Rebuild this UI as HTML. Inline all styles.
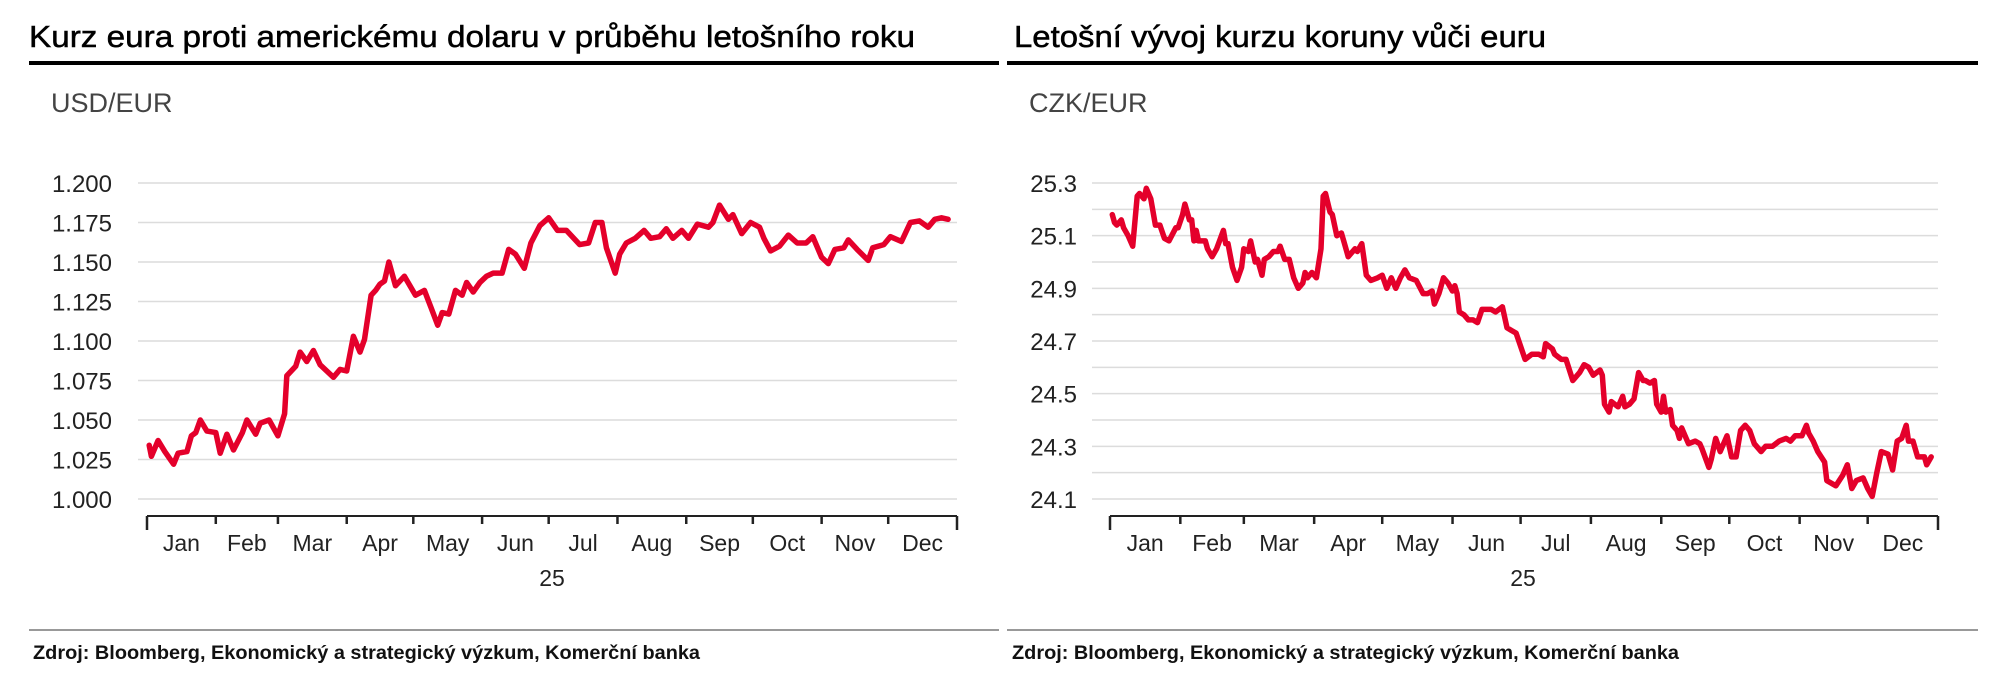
<!DOCTYPE html>
<html><head><meta charset="utf-8"><style>
html,body{margin:0;padding:0;background:#fff}
svg{display:block;font-family:"Liberation Sans",Arial,sans-serif}
</style></head><body>
<svg id="s" width="2004" height="699" viewBox="0 0 2004 699">
<g>
<text x="29" y="47" font-size="31" textLength="886" lengthAdjust="spacingAndGlyphs" fill="#000" stroke="#000" stroke-width="0.5">Kurz eura proti americkému dolaru v průběhu letošního roku</text>
<rect x="29" y="61" width="970" height="4" fill="#000"/>
<text x="51" y="112" font-size="27" fill="#444">USD/EUR</text>
<g id="lg"></g>
<rect x="29" y="629" width="970" height="2" fill="#999"/>
<text x="33" y="659" font-size="19" font-weight="bold" textLength="667" lengthAdjust="spacingAndGlyphs" fill="#111">Zdroj: Bloomberg, Ekonomický a strategický výzkum, Komerční banka</text>
</g>
<g>
<text x="1014" y="47" font-size="31" textLength="532" lengthAdjust="spacingAndGlyphs" fill="#000" stroke="#000" stroke-width="0.5">Letošní vývoj kurzu koruny vůči euru</text>
<rect x="1007" y="61" width="971" height="4" fill="#000"/>
<text x="1029" y="112" font-size="27" fill="#444">CZK/EUR</text>
<g id="rg"></g>
<rect x="1007" y="629" width="971" height="2" fill="#999"/>
<text x="1012" y="659" font-size="19" font-weight="bold" textLength="667" lengthAdjust="spacingAndGlyphs" fill="#111">Zdroj: Bloomberg, Ekonomický a strategický výzkum, Komerční banka</text>
</g>
</svg>
<script>
const monthLabels=["Jan","Feb","Mar","Apr","May","Jun","Jul","Aug","Sep","Oct","Nov","Dec"];
const monthStartDays=[0,31,59,90,120,151,181,212,243,273,304,334,365];
const usdTicks=[1.000,1.025,1.050,1.075,1.100,1.125,1.150,1.175,1.200];
const usdTickLabels=["1.000","1.025","1.050","1.075","1.100","1.125","1.150","1.175","1.200"];
const usdDays=[1,2,5,8,12,14,18,20,22,24,27,31,33,36,39,43,45,49,51,55,59,62,63,67,69,72,75,78,84,87,90,93,96,98,101,103,105,107,109,112,116,121,125,128,131,133,136,139,142,144,147,150,153,156,160,163,166,170,173,177,181,185,189,195,199,202,205,207,211,213,216,220,224,227,231,234,237,241,244,248,253,255,258,262,264,268,272,276,278,281,285,289,293,297,300,304,307,310,314,316,320,325,327,332,335,340,344,348,352,355,358,361];
const usdValues=[1.034,1.027,1.037,1.030,1.022,1.029,1.030,1.040,1.042,1.050,1.043,1.042,1.029,1.041,1.031,1.042,1.050,1.041,1.048,1.050,1.040,1.054,1.078,1.084,1.093,1.087,1.094,1.085,1.077,1.082,1.081,1.103,1.093,1.101,1.129,1.132,1.136,1.138,1.150,1.135,1.141,1.129,1.132,1.121,1.110,1.118,1.117,1.132,1.129,1.137,1.131,1.137,1.141,1.143,1.143,1.158,1.155,1.146,1.162,1.173,1.178,1.170,1.170,1.161,1.162,1.175,1.175,1.159,1.143,1.155,1.162,1.165,1.170,1.165,1.166,1.171,1.165,1.170,1.165,1.174,1.172,1.175,1.186,1.177,1.180,1.168,1.175,1.172,1.165,1.157,1.160,1.167,1.162,1.162,1.166,1.153,1.149,1.158,1.159,1.164,1.158,1.151,1.159,1.161,1.166,1.163,1.175,1.176,1.172,1.177,1.178,1.177];
const czkTicks=[24.1,24.2,24.3,24.4,24.5,24.6,24.7,24.8,24.9,25.0,25.1,25.2,25.3];
const czkTickLabels=["24.1","","24.3","","24.5","","24.7","","24.9","","25.1","","25.3"];
const czkDays=[1,2,3,5,6,8,10,12,13,15,16,18,20,22,24,26,29,30,32,33,35,36,37,38,39,42,43,45,47,50,51,52,54,56,58,59,61,62,64,65,67,68,70,72,74,75,77,79,81,83,85,86,87,89,91,93,94,95,97,98,100,102,103,105,108,109,111,113,115,118,120,122,124,126,128,130,132,135,138,140,142,143,145,147,149,151,152,153,154,156,158,160,162,164,166,168,170,173,175,177,179,181,183,186,189,191,192,195,196,199,201,204,207,209,211,213,216,217,218,220,221,224,226,227,229,231,233,235,236,238,240,241,243,244,245,247,248,250,251,252,254,255,258,260,261,264,265,267,269,272,274,276,278,280,282,284,287,289,292,295,298,300,302,305,307,308,310,312,315,316,320,323,325,327,329,332,334,336,338,340,343,345,347,349,351,352,354,356,359,360,362];
const czkValues=[25.18,25.15,25.14,25.16,25.13,25.10,25.06,25.25,25.26,25.24,25.28,25.24,25.14,25.14,25.09,25.08,25.13,25.13,25.18,25.22,25.16,25.16,25.08,25.12,25.08,25.08,25.05,25.02,25.05,25.12,25.07,25.07,24.98,24.93,24.98,25.05,25.04,25.08,25.00,25.01,24.95,25.01,25.02,25.04,25.04,25.06,25.01,25.01,24.94,24.90,24.92,24.96,24.94,24.96,24.94,25.05,25.25,25.26,25.19,25.18,25.10,25.11,25.08,25.02,25.05,25.04,25.07,24.95,24.93,24.94,24.95,24.90,24.94,24.90,24.94,24.97,24.94,24.93,24.88,24.88,24.89,24.84,24.88,24.94,24.92,24.89,24.91,24.88,24.81,24.80,24.78,24.78,24.77,24.82,24.82,24.82,24.81,24.83,24.75,24.74,24.73,24.68,24.63,24.65,24.65,24.64,24.69,24.67,24.65,24.63,24.63,24.55,24.58,24.61,24.60,24.57,24.59,24.57,24.46,24.43,24.47,24.45,24.49,24.45,24.46,24.48,24.58,24.55,24.55,24.54,24.55,24.46,24.43,24.49,24.43,24.44,24.38,24.36,24.33,24.37,24.33,24.31,24.32,24.31,24.29,24.22,24.25,24.33,24.28,24.34,24.26,24.26,24.36,24.38,24.36,24.31,24.28,24.30,24.30,24.32,24.33,24.32,24.34,24.34,24.38,24.35,24.32,24.28,24.24,24.17,24.15,24.19,24.23,24.14,24.17,24.18,24.14,24.11,24.20,24.28,24.27,24.21,24.32,24.33,24.38,24.32,24.32,24.26,24.26,24.23,24.26];

const NS="http://www.w3.org/2000/svg";
function mk(tag,attrs,parent){const e=document.createElementNS(NS,tag);for(const k in attrs)e.setAttribute(k,attrs[k]);parent.appendChild(e);return e;}

function drawChart(g,cfg){
  const xs=d=>cfg.ax0+d*(cfg.ax1-cfg.ax0)/365;
  const ys=v=>cfg.yTop+(cfg.vMax-v)*(cfg.yBot-cfg.yTop)/(cfg.vMax-cfg.vMin);
  cfg.ticks.forEach((t,i)=>{
    const y=ys(t);
    const l=mk('line',{x1:cfg.gx0,x2:cfg.gx1,y1:y,y2:y,stroke:'#dcdcdc','stroke-width':1.5},g);
    
    
    if(cfg.tickLabels[i]){
      const tx=mk('text',{x:cfg.labelRight,y:y+9,'font-size':24,'text-anchor':'end',fill:'#222'},g);
      tx.textContent=cfg.tickLabels[i];
      
      
    }
  });
  const ax=mk('line',{x1:cfg.ax0,x2:cfg.ax1,y1:cfg.axisY,y2:cfg.axisY,stroke:'#222','stroke-width':2},g);
  
  
  monthStartDays.forEach((d,i)=>{
    const x=xs(d);
    const t=mk('line',{x1:x,x2:x,y1:cfg.axisY,y2:cfg.axisY+(i===0||i===12?14:8),stroke:'#222','stroke-width':2.5},g);
    
    
    if(i<12){
      const tx=mk('text',{x:(x+xs(monthStartDays[i+1]))/2,y:cfg.axisY+35,'font-size':23,'text-anchor':'middle',fill:'#222'},g);
      tx.textContent=monthLabels[i];
      
      
    }
  });
  const yr=mk('text',{x:cfg.yearX,y:cfg.axisY+70,'font-size':23,'text-anchor':'middle',fill:'#222'},g);
  yr.textContent='25';
  
  
  const pts=cfg.days.map((d,i)=>xs(d).toFixed(1)+','+ys(cfg.values[i]).toFixed(1)).join(' ');
  const p=mk('polyline',{points:pts,fill:'none',stroke:'#e4002b','stroke-width':5.5,'stroke-linejoin':'round','stroke-linecap':'round'},g);
  
  
}
drawChart(document.getElementById('lg'),{ax0:147,ax1:957,gx0:138,gx1:957,yTop:183,yBot:499,vMin:1.0,vMax:1.2,axisY:516,labelRight:112,yearX:552,ticks:usdTicks,tickLabels:usdTickLabels,days:usdDays,values:usdValues});
drawChart(document.getElementById('rg'),{ax0:1110,ax1:1938,gx0:1092,gx1:1938,yTop:183,yBot:499,vMin:24.1,vMax:25.3,axisY:516,labelRight:1077,yearX:1523,ticks:czkTicks,tickLabels:czkTickLabels,days:czkDays,values:czkValues});
</script>
</body></html>
